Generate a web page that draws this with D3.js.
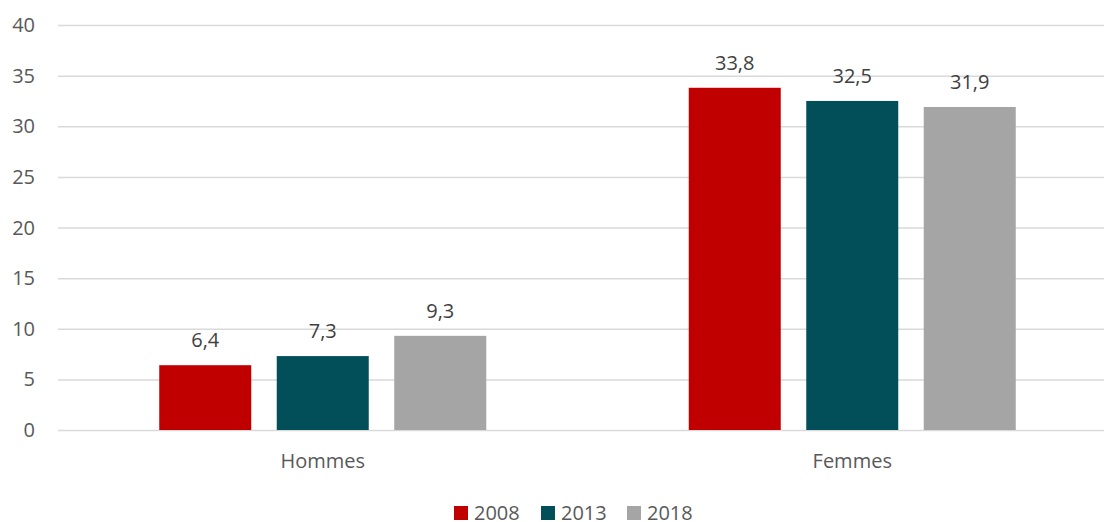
<!DOCTYPE html>
<html lang="fr">
<head>
<meta charset="utf-8">
<script src="https://cdn.jsdelivr.net/npm/d3@7"></script>
<style>
  body { margin: 0; background: #fff; }
  text { font-family: "Open Sans", sans-serif; }
</style>
</head>
<body>
<script>
var categories = ["Hommes", "Femmes"];
var years = ["2008", "2013", "2018"];
var values2008 = [6.4, 33.8];
var values2013 = [7.3, 32.5];
var values2018 = [9.3, 31.9];
var yTicks = [0, 5, 10, 15, 20, 25, 30, 35, 40];
var colors = ["#C00000", "#024F5A", "#A5A5A5"];

var series = [values2008, values2013, values2018];
var w = 1104, h = 522;
var plotLeft = 58, plotRight = 1117, plotTop = 25, plotBottom = 430;

var svg = d3.select("body").append("svg")
    .attr("width", w)
    .attr("height", h);

var x = d3.scaleBand().domain(categories).range([plotLeft, plotRight]).paddingInner(0).paddingOuter(0);
var x1 = d3.scaleBand().domain(years).range([0, 327]).paddingInner(0.217);
var y = d3.scaleLinear().domain([0, 40]).range([plotBottom, plotTop]);

// gridlines
svg.selectAll("line.grid")
    .data(yTicks)
    .enter()
    .append("line")
    .attr("x1", plotLeft)
    .attr("x2", w)
    .attr("y1", function (d) { return y(d) + 0.5; })
    .attr("y2", function (d) { return y(d) + 0.5; })
    .attr("stroke", "#D9D9D9")
    .attr("stroke-width", 1.5);

svg.selectAll("text.ytick")
    .data(yTicks)
    .enter()
    .append("text")
    .attr("x", 35)
    .attr("y", function (d) { return y(d); })
    .attr("dy", "0.35em")
    .attr("text-anchor", "end")
    .attr("font-size", "20px")
    .attr("fill", "#595959")
    .text(function (d) { return d; });

var fmt = function (v) { return d3.format(".1f")(v).replace(".", ","); };

series.forEach(function (vals, s) {
    var g = svg.append("g");
    g.selectAll("rect")
        .data(vals)
        .enter()
        .append("rect")
        .attr("x", function (d, i) { return x(categories[i]) + (x.bandwidth() - 327) / 2 + x1(years[s]); })
        .attr("y", function (d) { return y(d); })
        .attr("width", x1.bandwidth())
        .attr("height", function (d) { return y(0) - y(d); })
        .attr("fill", colors[s]);

    g.selectAll("text")
        .data(vals)
        .enter()
        .append("text")
        .attr("x", function (d, i) { return x(categories[i]) + (x.bandwidth() - 327) / 2 + x1(years[s]) + x1.bandwidth() / 2; })
        .attr("y", function (d) { return y(d) - 18; })
        .attr("text-anchor", "middle")
        .attr("font-size", "20px")
        .attr("fill", "#404040")
        .text(fmt);
});

// category labels
svg.selectAll("text.cat")
    .data(categories)
    .enter()
    .append("text")
    .attr("x", function (d) { return x(d) + x.bandwidth() / 2; })
    .attr("y", 468)
    .attr("text-anchor", "middle")
    .attr("font-size", "20px")
    .attr("fill", "#595959")
    .text(function (d) { return d; });

// legend
var legendX = [454, 541, 627];
var legend = svg.selectAll("g.legend")
    .data(years)
    .enter()
    .append("g")
    .attr("transform", function (d, i) { return "translate(" + legendX[i] + ",0)"; });

legend.append("rect")
    .attr("x", 0)
    .attr("y", 506)
    .attr("width", 14)
    .attr("height", 14)
    .attr("fill", function (d, i) { return colors[i]; });

legend.append("text")
    .attr("x", 20)
    .attr("y", 520)
    .attr("font-size", "20px")
    .attr("fill", "#595959")
    .text(function (d) { return d; });
</script>
</body>
</html>
